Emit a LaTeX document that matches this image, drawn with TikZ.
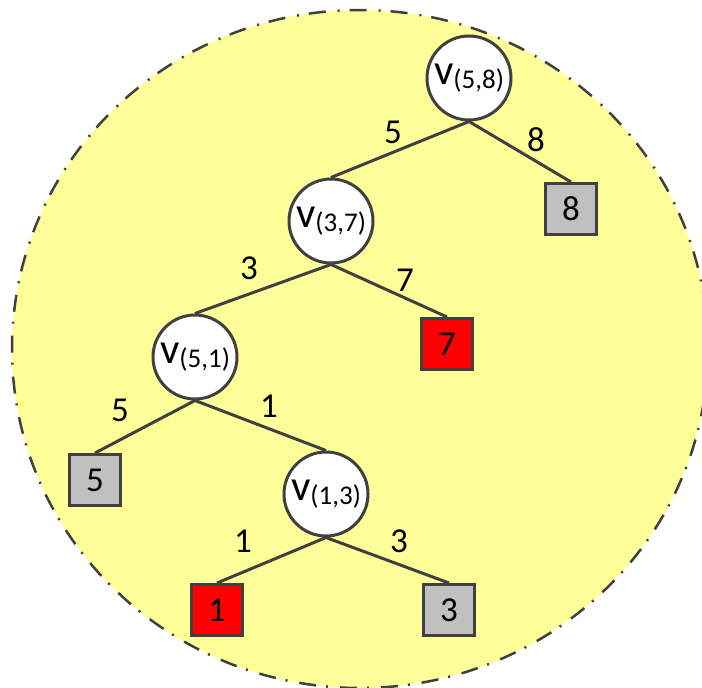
\documentclass[tikz,border=0pt]{standalone}
\usepackage{fontspec}
\setmainfont{Carlito}
\usetikzlibrary{shapes.geometric}
\definecolor{bgyellow}{HTML}{FFFF99}
\definecolor{edgegray}{HTML}{404040}
\definecolor{leafgray}{HTML}{C0C0C0}
\definecolor{leafred}{HTML}{FF0000}
\begin{document}
\begin{tikzpicture}[x=1pt,y=-1pt,
  vnode/.style={circle,draw=edgegray,line width=3pt,fill=white,minimum size=84pt,inner sep=0pt},
  leaf/.style={rectangle,draw=edgegray,line width=3pt,minimum size=51pt,inner sep=0pt,font=\fontsize{35}{35}\selectfont},
  grayleaf/.style={leaf,fill=leafgray},
  redleaf/.style={leaf,fill=leafred},
  wlabel/.style={inner sep=0pt,font=\fontsize{35}{35}\selectfont},
  link/.style={draw=edgegray,line width=3pt}]
\useasboundingbox (0,0) rectangle (702,688);
\clip (0,0) rectangle (702,688);
\node[ellipse,minimum width=696pt,minimum height=678pt,fill=bgyellow,draw=edgegray,line width=2.5pt,
  dash pattern=on 17pt off 10pt on 2pt off 12pt,inner sep=0pt] (bg) at (360,349) {};
\newcommand{\vlab}[1]{{\fontsize{43}{43}\selectfont v}\raisebox{-4pt}{\fontsize{27}{27}\selectfont(#1)}}
\node[vnode] (A) at (469,78) {\vlab{5,8}};
\node[vnode] (B) at (331,221) {\vlab{3,7}};
\node[vnode] (C) at (195,357) {\vlab{5,1}};
\node[vnode] (D) at (326,494) {\vlab{1,3}};
\node[grayleaf] (L8) at (571,209) {8};
\node[redleaf] (L7) at (447,344) {7};
\node[grayleaf] (L5) at (95,480) {5};
\node[redleaf] (L1) at (217,610) {1};
\node[grayleaf] (L3) at (449,610) {3};
\path[link] (A.south) -- (B.north);
\path[link] (A.south) -- (L8.north);
\path[link] (B.south) -- (C.north);
\path[link] (B.south) -- (L7.north);
\path[link] (C.south) -- (L5.north);
\path[link] (C.south) -- (D.north);
\path[link] (D.south) -- (L1.north);
\path[link] (D.south) -- (L3.north);
\node[wlabel] (e1) at (393,132) {5};
\node[wlabel] (e2) at (536,140) {8};
\node[wlabel] (e3) at (249,268) {3};
\node[wlabel] (e4) at (405,280) {7};
\node[wlabel] (e5) at (120,410) {5};
\node[wlabel] (e6) at (269,406) {1};
\node[wlabel] (e7) at (243,541) {1};
\node[wlabel] (e8) at (399,541) {3};
\end{tikzpicture}
\end{document}
